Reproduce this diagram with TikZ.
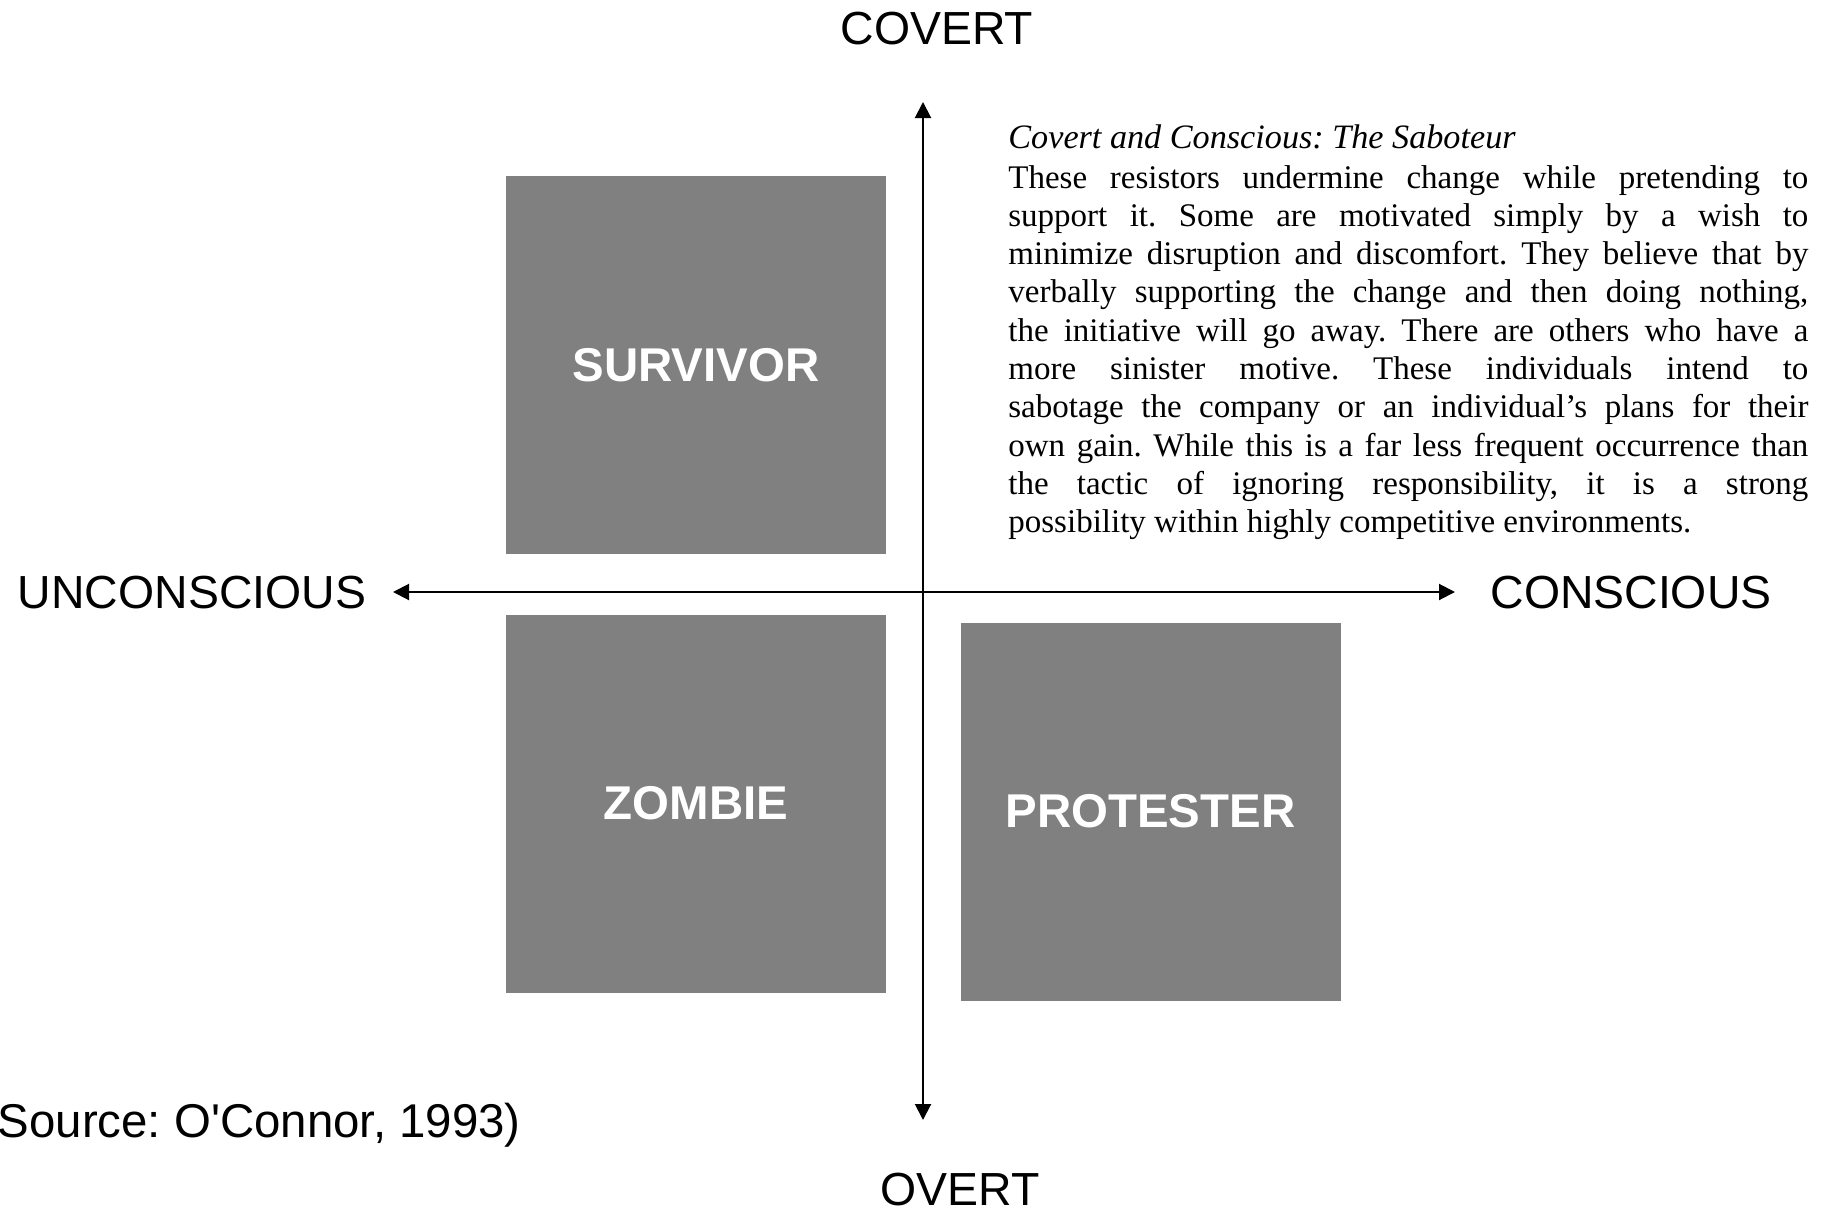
\documentclass[tikz,border=0pt]{standalone}
\usepackage{fontspec}
\setmainfont{Liberation Sans}
\newfontfamily\bookfont{Liberation Serif}
\usetikzlibrary{arrows.meta}
\definecolor{boxgray}{RGB}{128,128,128}
\frenchspacing
\begin{document}
\begin{tikzpicture}[x=0.5pt,y=-0.5pt,
  axis/.style={line width=1pt, {Triangle[length=8pt,width=8pt]}-{Triangle[length=8pt,width=8pt]}},
  axislabel/.style={inner sep=0pt, anchor=base, font=\fontsize{23.2pt}{27pt}\selectfont},
  quadbox/.style={fill=boxgray, draw=none, minimum width=190pt, minimum height=189pt,
    inner sep=0pt, text=white, font=\fontsize{23.7pt}{28pt}\selectfont\bfseries},
  quote/.style={inner sep=0pt, anchor=base west, font=\bookfont\fontsize{16.5pt}{19.15pt}\selectfont}
]
\useasboundingbox (0,0) rectangle (1828,1215);

% quadrant boxes
\node[quadbox] (survivor) at (696,365) {SURVIVOR};
\node[quadbox] (zombie) at (696,803.5) {ZOMBIE};
\node[quadbox] (protester) at (1150.5,811.5) {PROTESTER};

% axis ends
\coordinate (top) at (923,102);
\coordinate (bottom) at (923,1120);
\coordinate (left) at (393,592);
\coordinate (right) at (1455,592);
\draw[axis] (bottom) -- (top);
\draw[axis] (left) -- (right);

% axis labels
\node[axislabel] (covert) at (937,45) {COVERT};
\node[axislabel] (overt) at (960,1205) {OVERT};
\node[axislabel] (unconscious) at (192,608) {UNCONSCIOUS};
\node[axislabel] (conscious) at (1631,608) {CONSCIOUS};
\node[axislabel, anchor=base east, font=\fontsize{23.7pt}{28pt}\selectfont] (source) at (521,1137) {Source: O\textquotesingle Connor, 1993)};

% quoted description of the covert and conscious quadrant
\node[quote, font=\bookfont\fontsize{17.1pt}{19.15pt}\selectfont] (qhead) at (1008,148) {\itshape Covert and Conscious: The Saboteur};
\node[quote, text width=400pt, align=justify] (qbody) at (1008,188) {%
These resistors undermine change while pretending to\linebreak
support it. Some are motivated simply by a wish to\linebreak
minimize disruption and discomfort. They believe that by\linebreak
verbally supporting the change and then doing nothing,\linebreak
the initiative will go away. There are others who have a\linebreak
more sinister motive. These individuals intend to\linebreak
sabotage the company or an individual’s plans for their\linebreak
own gain. While this is a far less frequent occurrence than\linebreak
the tactic of ignoring responsibility, it is a strong\linebreak
possibility within highly competitive environments.};
\end{tikzpicture}
\end{document}
